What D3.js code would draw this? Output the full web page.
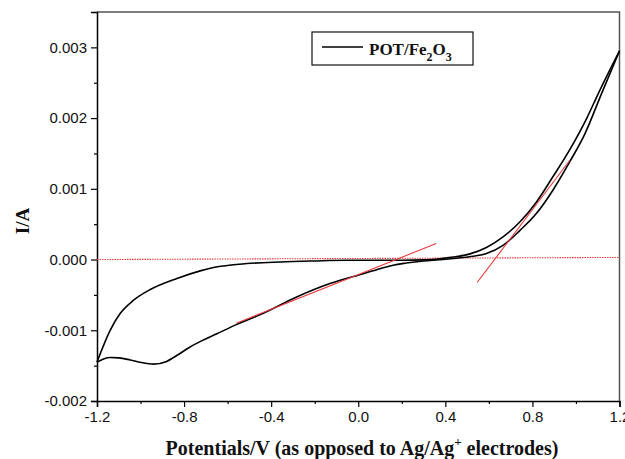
<!DOCTYPE html>
<html>
<head>
<meta charset="utf-8">
<style>
  body { margin: 0; background: #fff; }
  svg { display: block; }
</style>
</head>
<body>
<svg id="graph" width="625" height="459"></svg>
<script src="https://d3js.org/d3.v7.min.js"></script>
<script>
// forward scan (lower branch), potential V vs current A
var forwardV = [-1.2, -1.17, -1.139, -1.1, -1.047, -0.99, -0.94, -0.88, -0.83, -0.78, -0.72, -0.65, -0.56, -0.436, -0.283, -0.13, 0.023, 0.1, 0.16, 0.22, 0.3, 0.37, 0.436, 0.51, 0.589, 0.665, 0.742, 0.818, 0.894, 0.971, 1.04, 1.118, 1.2];
var forwardI = [-0.00145, -0.001405, -0.001385, -0.00139, -0.00142, -0.00146, -0.001479, -0.00144, -0.00135, -0.00125, -0.00115, -0.00105, -0.00092, -0.00076, -0.00053, -0.00034, -0.0002, -0.00013, -0.00008, -0.00005, -0.00002, -0.000003, 0.000014, 0.00004, 0.000085, 0.0002, 0.00041, 0.00065, 0.00098, 0.00138, 0.00177, 0.00235, 0.00295];

// reverse scan (upper branch)
var reverseV = [1.2, 1.103, 1.05, 0.971, 0.894, 0.818, 0.742, 0.665, 0.589, 0.513, 0.436, 0.375, 0.3, 0.2, -0.053, -0.206, -0.359, -0.512, -0.665, -0.726, -0.833, -0.955, -1.032, -1.093, -1.139, -1.2];
var reverseI = [0.00295, 0.00235, 0.002, 0.00155, 0.00117, 0.00081, 0.00053, 0.00032, 0.00017, 0.00008, 0.000035, 0.000012, -0.000005, -0.00001, -0.00001, -0.00002, -0.000034, -0.000057, -0.000113, -0.00016, -0.000268, -0.000424, -0.000575, -0.00076, -0.000997, -0.00145];

// red guide lines (endpoints in data units)
var baseLine = [[-1.2, 0], [1.2, 0.00003]];
var tangentLow = [[-0.56, -0.0009], [0.358, 0.000226]];
var tangentHigh = [[0.546, -0.000325], [0.971, 0.0014]];

var xTicks = [-1.2, -0.8, -0.4, 0.0, 0.4, 0.8, 1.2];
var xTickLabels = ["-1.2", "-0.8", "-0.4", "0.0", "0.4", "0.8", "1.2"];
var xMinor = [-1.0, -0.6, -0.2, 0.2, 0.6, 1.0];
var yTicks = [-0.002, -0.001, 0.0, 0.001, 0.002, 0.003];
var yTickLabels = ["-0.002", "-0.001", "0.000", "0.001", "0.002", "0.003"];
var yMinor = [-0.0015, -0.0005, 0.0005, 0.0015, 0.0025];

var svg = d3.select("svg"),
    margin = {top: 12, right: 5.5, bottom: 58, left: 97},
    width = +svg.attr("width") - margin.left - margin.right,
    height = +svg.attr("height") - margin.top - margin.bottom,
    g = svg.append("g").attr("transform", "translate(" + margin.left + "," + margin.top + ")");

var x = d3.scaleLinear().domain([-1.2, 1.2]).range([0, width]);
var y = d3.scaleLinear().domain([-0.002, 0.0035]).range([height, 0]);

var tickFont = "'Liberation Sans', Arial, sans-serif";
var serif = "'Liberation Serif', 'Times New Roman', serif";

// frame (top + right)
g.append("path")
    .attr("d", "M0,0H" + width + "V" + height)
    .attr("fill", "none")
    .attr("stroke", "#555")
    .attr("stroke-width", 1.5);

// x axis
g.append("g")
    .attr("transform", "translate(0," + height + ")")
    .call(d3.axisBottom(x).tickValues(xTicks).tickSize(6).tickPadding(4)
      .tickFormat(function (d, i) { return xTickLabels[i]; }));
g.append("g")
    .attr("transform", "translate(0," + height + ")")
    .call(d3.axisBottom(x).tickValues(xMinor).tickSize(3).tickFormat(""))
    .select(".domain").remove();

// y axis
g.append("g")
    .call(d3.axisLeft(y).tickValues(yTicks).tickSize(6).tickPadding(4)
      .tickFormat(function (d, i) { return yTickLabels[i]; }));
g.append("g")
    .call(d3.axisLeft(y).tickValues(yMinor).tickSize(3).tickFormat(""))
    .select(".domain").remove();

g.selectAll(".domain").attr("stroke", "#000").attr("stroke-width", 1.5);
g.selectAll(".tick line").attr("stroke", "#000").attr("stroke-width", 1.2);
g.selectAll(".tick text")
    .attr("font-family", tickFont)
    .attr("font-size", 15)
    .attr("fill", "#111");

// red guide lines
var line = d3.line()
    .x(function (d) { return x(d[0]); })
    .y(function (d) { return y(d[1]); });

g.append("path")
    .datum(baseLine)
    .attr("fill", "none")
    .attr("stroke", "#e8383a")
    .attr("stroke-width", 1.1)
    .attr("stroke-dasharray", "1.5,1")
    .attr("d", line);

// CV loop
var curve = d3.line()
    .x(function (d) { return x(d[0]); })
    .y(function (d) { return y(d[1]); })
    .curve(d3.curveMonotoneX);

var fwd = forwardV.map(function (v, i) { return [v, forwardI[i]]; });
var rev = reverseV.map(function (v, i) { return [v, reverseI[i]]; })
    .sort(function (a, b) { return a[0] - b[0]; });

[fwd, rev].forEach(function (branch) {
  g.append("path")
    .datum(branch)
    .attr("fill", "none")
    .attr("stroke", "#000")
    .attr("stroke-width", 1.6)
    .attr("stroke-linejoin", "round")
    .attr("d", curve);
});

[tangentLow, tangentHigh].forEach(function (seg) {
  g.append("path")
    .datum(seg)
    .attr("fill", "none")
    .attr("stroke", "#e8383a")
    .attr("stroke-width", 1.1)
    .attr("d", line);
});

// legend
var legend = svg.append("g");
legend.append("rect")
    .attr("x", 312).attr("y", 32)
    .attr("width", 161).attr("height", 33)
    .attr("fill", "#fff")
    .attr("stroke", "#111")
    .attr("stroke-width", 1.2);
legend.append("line")
    .attr("x1", 322).attr("x2", 363)
    .attr("y1", 47).attr("y2", 47)
    .attr("stroke", "#000")
    .attr("stroke-width", 1.6);
var lt = legend.append("text")
    .attr("x", 369).attr("y", 55)
    .attr("font-family", serif)
    .attr("font-weight", "bold")
    .attr("font-size", 17)
    .attr("fill", "#111");
lt.append("tspan").text("POT/Fe");
lt.append("tspan").attr("font-size", 12).attr("dy", 6).text("2");
lt.append("tspan").attr("dy", -6).text("O");
lt.append("tspan").attr("font-size", 12).attr("dy", 6).text("3");

// axis titles
var xt = svg.append("text")
    .attr("x", 362)
    .attr("y", 455)
    .attr("text-anchor", "middle")
    .attr("font-family", serif)
    .attr("font-weight", "bold")
    .attr("font-size", 20)
    .attr("fill", "#111");
xt.append("tspan").text("Potentials/V (as opposed to Ag/Ag");
xt.append("tspan").attr("font-size", 13).attr("dy", -9).text("+");
xt.append("tspan").attr("dy", 9).text(" electrodes)");

svg.append("text")
    .attr("transform", "translate(29,221) rotate(-90)")
    .attr("text-anchor", "middle")
    .attr("font-family", serif)
    .attr("font-weight", "bold")
    .attr("font-size", 19)
    .attr("fill", "#111")
    .text("I/A");
</script>
</body>
</html>
